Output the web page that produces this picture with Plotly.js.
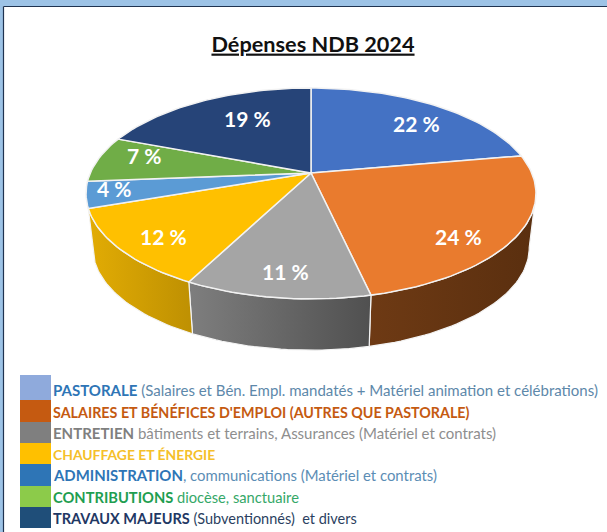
<!DOCTYPE html>
<html><head><meta charset="utf-8">
<script src="https://cdn.plot.ly/plotly-3.0.1.min.js"></script>
<style>html,body{margin:0;padding:0;background:#fff;overflow:hidden}</style>
</head><body><div id="chart" style="width:607px;height:532px"></div>
<script>
// ---- data ----
const categories = ["Pastorale","Salaires et bénéfices d'emploi","Entretien","Chauffage et énergie","Administration","Contributions","Travaux majeurs"];
const values = [22,24,11,12,4,7,19];
const titleText = "Dépenses NDB 2024";
const legendBold = ["PASTORALE","SALAIRES ET BÉNÉFICES D'EMPLOI (AUTRES QUE PASTORALE)","ENTRETIEN","CHAUFFAGE ET ÉNERGIE","ADMINISTRATION","CONTRIBUTIONS","TRAVAUX MAJEURS"];
const legendRest = [" (Salaires et Bén. Empl. mandatés + Matériel animation et célébrations)",""," bâtiments et terrains, Assurances (Matériel et contrats)","",", communications (Matériel et contrats)"," diocèse, sanctuaire"," (Subventionnés)  et divers"];

// ---- styles and layout ----
const topColors = ["#4472C4","#E97B2E","#A5A5A5","#FFC000","#5B9BD5","#70AD47","#264478"];
const wallScales = [null,["#6E3A14","#5A2F0F"],["#7E7E7E","#505050"],["#E2AC04","#BE9002"],null,null,null];
const swatchColors = ["#8FAADC","#C55A11","#7F7F7F","#FFC000","#2E75B6","#8CCB4A","#1F4E79"];
const boldColors = ["#2E75B6","#C55A11","#7F7F7F","#F5C02A","#2E75B6","#1E9E50","#1F3864"];
const restColors = ["#5D88AA","#C55A11","#8E8E8E","#F5C02A","#5B8DB5","#35A868","#2B3F5F"];
const labelPos = [[416,123.5],[458,236],[285,271],[163,236],[114,188.5],[144,155.5],[247,118.5]];
const swatchTop = [375,400,422,443,464,486,507], swatchBottom = [400,422,443,464,486,507,528];
const textY = [390,411.5,433,454,475,496.5,518];
const textSize = [15,14.3,15,13.9,14.9,14.7,14.5];

// perspective projection of the pie: theta in degrees, clockwise from the top
const CX=311, CY=173, RX=220.7, RY=101.5, K=0.194, BOTTOM_CY=228, BOTTOM_S=0.97;
function proj(theta,r,lower){
  const t=theta*Math.PI/180, u=r*Math.sin(t), v=r*Math.cos(t), w=1+K*v;
  const s=lower?BOTTOM_S:1, cy=lower?BOTTOM_CY:CY;
  return [CX+s*RX*u/w, cy-s*RY*v/w];
}
function arc(a,b,lower){const n=Math.max(2,Math.ceil(Math.abs(b-a)/1.5)),p=[];
  for(let i=0;i<=n;i++)p.push(proj(a+(b-a)*i/n,1,lower));return p;}
const total=values.reduce((a,b)=>a+b,0);
let ang=0; const spans=values.map(v=>{const s=[ang,ang+v/total*360];ang=s[1];return s;});

const traces=[];
// walls (visible front only)
const FRONT_START=101;
spans.forEach((s,i)=>{
  if(!wallScales[i])return;
  const a=Math.max(s[0],FRONT_START),b=s[1];
  const pts=arc(a,b,false).concat(arc(b,a,true));pts.push(pts[0]);
  traces.push({type:'scatter',mode:'lines',x:pts.map(p=>p[0]),y:pts.map(p=>p[1]),fill:'toself',
    line:{color:'#F4F4F4',width:1.2},hoverinfo:'skip',
    fillgradient:{type:'horizontal',colorscale:[[0,wallScales[i][0]],[1,wallScales[i][1]]]}});
});
// top faces
spans.forEach((s,i)=>{
  const pts=[[CX,CY]].concat(arc(s[0],s[1],false));pts.push([CX,CY]);
  traces.push({type:'scatter',mode:'lines',x:pts.map(p=>p[0]),y:pts.map(p=>p[1]),fill:'toself',
    fillcolor:topColors[i],line:{color:'#F2F2F2',width:1.5},name:categories[i],hoverinfo:'skip'});
});

const annotations=values.map((v,i)=>({xref:'x',yref:'y',x:labelPos[i][0],y:labelPos[i][1],text:'<b>'+v+' %</b>',
  showarrow:false,font:{family:'Lato',size:21,color:'#FFFFFF'}}));
legendBold.forEach((b,i)=>{
  annotations.push({xref:'x',yref:'y',x:50.5,y:textY[i],xanchor:'left',yanchor:'middle',showarrow:false,
    text:'<b><span style="color:'+boldColors[i]+'">'+b+'</span></b><span style="color:'+restColors[i]+'">'+legendRest[i]+'</span>',
    font:{family:'Lato',size:textSize[i]}});
});
const shapes=[
 {type:'rect',xref:'x',yref:'y',x0:0,x1:607,y0:0,y1:6,fillcolor:'#9DC3E6',line:{width:0},layer:'below'},
 {type:'rect',xref:'x',yref:'y',x0:0,x1:3,y0:0,y1:532,fillcolor:'#9DC3E6',line:{width:0},layer:'below'},
 {type:'line',xref:'x',yref:'y',x0:3.5,x1:607,y0:6.5,y1:6.5,line:{color:'#1F3350',width:1.2},layer:'below'},
 {type:'line',xref:'x',yref:'y',x0:3.5,x1:3.5,y0:6.5,y1:532,line:{color:'#1F3350',width:1.2},layer:'below'}
];
swatchColors.forEach((c,i)=>shapes.push({type:'rect',xref:'x',yref:'y',x0:20,x1:51,y0:swatchTop[i],y1:swatchBottom[i],fillcolor:c,line:{width:0},layer:'below'}));

const layout={width:607,height:532,margin:{l:0,r:0,t:0,b:0},showlegend:false,paper_bgcolor:'#FFFFFF',plot_bgcolor:'#FFFFFF',
  xaxis:{range:[0,607],visible:false,fixedrange:true},yaxis:{range:[532,0],visible:false,fixedrange:true},
  title:{text:'<b>'+titleText+'</b>',x:313/607,xanchor:'center',y:1-44/532,yanchor:'middle',xref:'paper',yref:'paper',
    font:{family:'Lato',size:21.7,color:'#111111',lineposition:'under'}},
  annotations,shapes};
Plotly.newPlot('chart',traces,layout,{displayModeBar:false,staticPlot:true});
</script></body></html>
